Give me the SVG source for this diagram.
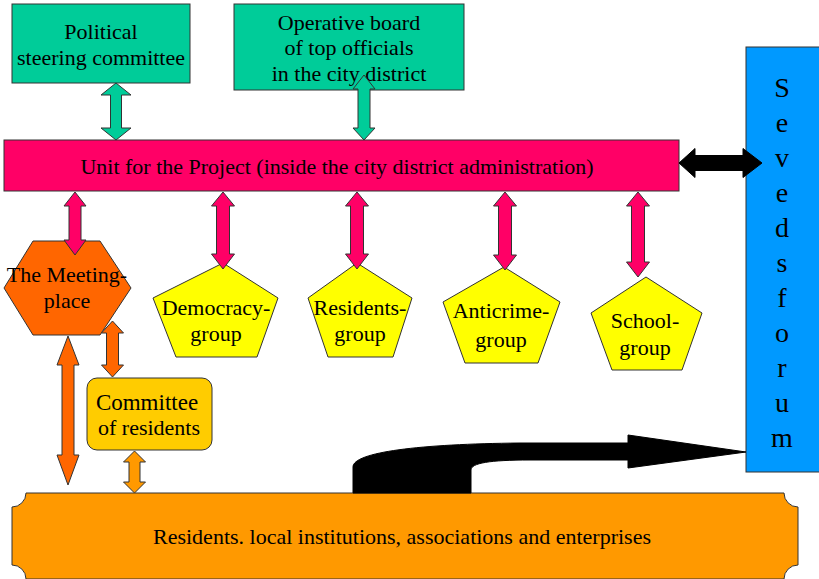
<svg xmlns="http://www.w3.org/2000/svg" width="819" height="579" viewBox="0 0 819 579">
<style>
text{font-family:'Liberation Serif','Times New Roman','DejaVu Serif',serif;font-size:22px;fill:#000;text-anchor:middle}
.box{stroke:#333;stroke-width:1}
.teal{fill:#00CC99}
.pink{fill:#FF0066}
.yel{fill:#FFFF00}
.arr{stroke:#333;stroke-width:1}
.blk{fill:#000;stroke:#000;stroke-width:1}
.big{font-size:28px}
</style>
<rect width="819" height="579" fill="#fff"/>
<g id="political">
<rect class="box teal" x="12" y="4" width="178" height="79"/>
<text x="101" y="39" font-family="Liberation Serif, serif">Political</text>
<text x="101" y="65" font-family="Liberation Serif, serif">steering committee</text>
</g>
<g id="operative">
<rect class="box teal" x="234" y="4" width="230" height="86"/>
<text x="349" y="30">Operative board</text>
<text x="349" y="55">of top officials</text>
<text x="349" y="81">in the city district</text>
</g>
<g id="unit">
<rect class="box pink" x="4" y="140" width="675" height="51"/>
<text x="337" y="174">Unit for the Project (inside the city district administration)</text>
</g>
<g id="sevedsforum">
<rect class="box" fill="#0099FF" x="746" y="47" width="80" height="425"/>
<text class="big" x="782" y="97">S</text>
<text class="big" x="782" y="132">e</text>
<text class="big" x="782" y="167">v</text>
<text class="big" x="782" y="202">e</text>
<text class="big" x="782" y="237">d</text>
<text class="big" x="782" y="272">s</text>
<text class="big" x="782" y="307">f</text>
<text class="big" x="782" y="342">o</text>
<text class="big" x="782" y="377">r</text>
<text class="big" x="782" y="412">u</text>
<text class="big" x="782" y="447">m</text>
</g>
<g id="meeting">
<polygon class="box" fill="#FF6600" points="33,241 100,241 131,288 100,335 33,335 4,288"/>
<text x="67" y="282">The Meeting-</text>
<text x="67" y="308">place</text>
</g>
<g id="democracy">
<polygon class="box yel" points="223,263 278,298 257,357 176,357 153,298"/>
<text x="216" y="315">Democracy-</text>
<text x="216" y="341">group</text>
</g>
<g id="residents-group">
<polygon class="box yel" points="357,263 412,298 393,357 328,357 308,298"/>
<text x="360" y="315">Residents-</text>
<text x="360" y="341">group</text>
</g>
<g id="anticrime">
<polygon class="box yel" points="504,267 560,302 538,363 465,363 443,302"/>
<text x="501" y="318">Anticrime-</text>
<text x="501" y="347">group</text>
</g>
<g id="school">
<polygon class="box yel" points="646,277 702,313 682,370 612,370 591,313"/>
<text x="645" y="328">School-</text>
<text x="645" y="355">group</text>
</g>
<g id="committee">
<rect class="box" fill="#FFCC00" x="87" y="378" width="125" height="72" rx="10"/>
<text x="147" y="410" style="font-size:23px">Committee</text>
<text x="149" y="435">of residents</text>
</g>
<g id="residents-bottom">
<path class="box" fill="#FF9900" d="M26,493 L784,493 A14,14 0 0 0 798,507 L798,565 A14,14 0 0 0 784,579 L26,579 A14,14 0 0 0 12,565 L12,507 A14,14 0 0 0 26,493 Z"/>
<text x="402" y="544">Residents. local institutions, associations and enterprises</text>
</g>
<g id="connectors">
<path class="arr teal" d="M116,83 L131,95 L121.5,95 L121.5,128 L131,128 L116,140 L101,128 L110.5,128 L110.5,95 L101,95 Z"/>
<path class="arr teal" d="M364,75 L375,89 L370,89 L370,128 L375,128 L364,140 L353,128 L358,128 L358,89 L353,89 Z"/>
<path class="arr pink" d="M75,192 L86,206 L81,206 L81,240 L86,240 L75,255 L64,240 L69,240 L69,206 L64,206 Z"/>
<path class="arr pink" d="M223,192 L234.5,206 L229.5,206 L229.5,254 L234.5,254 L223,269 L211.5,254 L216.5,254 L216.5,206 L211.5,206 Z"/>
<path class="arr pink" d="M357,192 L368.5,206 L363.5,206 L363.5,254 L368.5,254 L357,269 L345.5,254 L350.5,254 L350.5,206 L345.5,206 Z"/>
<path class="arr pink" d="M505,192 L516.5,206 L511.5,206 L511.5,255 L516.5,255 L505,270 L493.5,255 L498.5,255 L498.5,206 L493.5,206 Z"/>
<path class="arr pink" d="M638,192 L649.5,206 L644.5,206 L644.5,262 L649.5,262 L638,277 L626.5,262 L631.5,262 L631.5,206 L626.5,206 Z"/>
<path class="arr" fill="#FF6600" d="M68,336 L79,365 L74,365 L74,455 L79,455 L68,485 L57,455 L62,455 L62,365 L57,365 Z"/>
<path class="arr" fill="#FF6600" d="M112.5,321 L123.5,333 L118.5,333 L118.5,365 L123.5,365 L112.5,377 L101.5,365 L106.5,365 L106.5,333 L101.5,333 Z"/>
<path class="arr" fill="#FF9900" d="M134.5,451 L145.5,462 L140,462 L140,482 L145.5,482 L134.5,493 L123.5,482 L129,482 L129,462 L123.5,462 Z"/>
<path class="blk" d="M679,163 L695,148.5 L695,155.5 L743,155.5 L743,148.5 L762,163 L743,177.5 L743,170.5 L695,170.5 L695,177.5 Z"/>
<path class="blk" d="M353,493 L353,467 C353,452 420,444 520,443 L628,443 L628,435 L746,452 L628,468 L628,460 L530,460 C490,460 471,463 471,470 L471,493 Z"/>
</g>
</svg>
